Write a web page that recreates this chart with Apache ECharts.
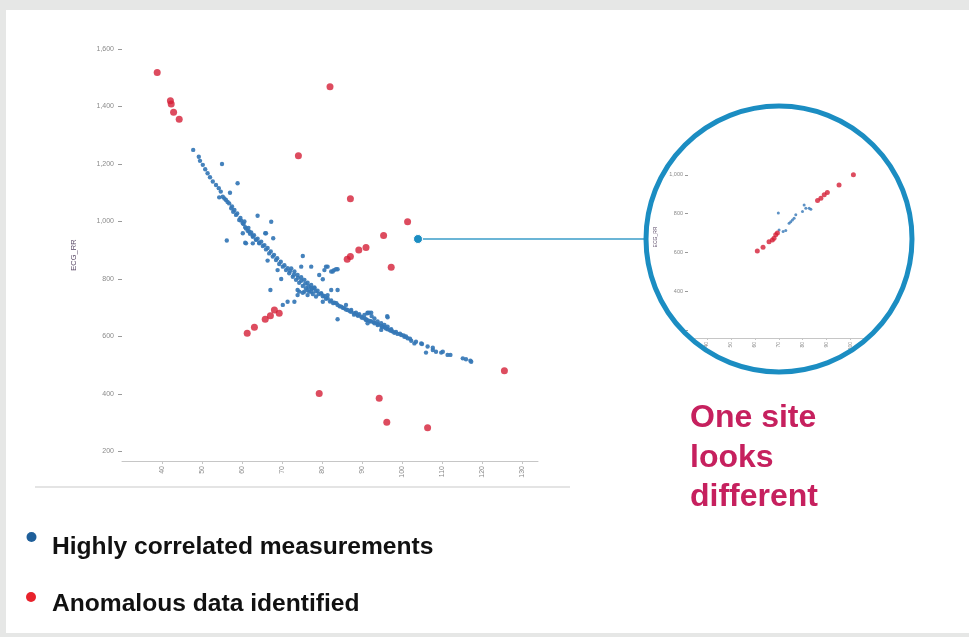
<!DOCTYPE html>
<html><head><meta charset="utf-8">
<script src="https://cdn.jsdelivr.net/npm/echarts@6/dist/echarts.min.js"></script>
<style>
html,body{margin:0;padding:0;background:#e6e7e6;width:969px;height:637px;overflow:hidden;}
#panel{position:absolute;left:6px;top:10px;width:963px;height:623px;background:#fff;}
#chart{position:absolute;left:0;top:0;width:969px;height:637px;}
</style></head><body>
<div id="panel"></div>
<div id="chart"></div>
<script>
// ---- Data ----
const xTicks = [40, 50, 60, 70, 80, 90, 100, 110, 120, 130];
const yTicks = [200, 400, 600, 800, 1000, 1200, 1400, 1600];
const insetXTicks = [40, 50, 60, 70, 80, 90, 100, 110];
const insetYTicks = [200, 400, 600, 800, 1000, 1200];

// main plot: highly correlated measurements [HR, ECG_RR]
const normalPts = [
[47.8,1249],[49.2,1225],[49.5,1211],[50.2,1197],[50.8,1182],[51.4,1168],[52.0,1154],[52.7,1139],[53.5,1127],[54.2,1116],[54.7,1104],[55.2,1086],[54.3,1084],[56.0,1075],[57.0,1100],[56.8,1063],[57.3,1046],[57.8,1034],[58.5,1023],[59.3,1005],[59.8,1003],[60.2,994],[60.4,991],[60.8,980],[61.0,976],[61.4,968],[61.8,965],[62.0,957],[62.7,947],[62.7,950],[63.5,936],[63.5,938],[64.3,924],[64.3,926],[65.2,915],[66.0,903],[66.8,889],[67.7,878],[68.5,866],[69.3,852],[70.2,843],[71.0,831],[71.8,820],[72.7,808],[73.5,797],[74.3,787],[75.2,776],[76.0,768],[76.8,756],[77.7,748],[78.5,739],
[72.3,837],[73.1,826],[73.9,814],[74.8,806],[75.6,797],[76.4,787],[77.3,779],[78.1,768],[78.9,759],[79.8,750],[80.6,741],[81.4,733],[82.3,725],[83.1,718],[83.9,710],[84.8,704],[85.6,698],[86.4,692],[87.3,686],[88.1,681],[88.9,675],[89.8,669],[90.6,663],[91.4,657],[92.3,652],[93.1,646],[93.9,640],[94.8,637],[95.6,632],[96.4,625],[97.3,620],[98.1,613],
[87.3,692],[88.5,683],[89.3,678],[90.6,675],[91.4,681],[91.8,683],[92.4,671],[91.0,657],[91.4,646],[93.1,663],[93.9,652],[94.8,646],[95.6,640],[96.4,634],[97.3,625],[97.7,617],[98.9,609],[99.8,605],[100.6,599],[101.4,594],[102.3,585],[103.1,576],[104.8,576],[105.0,574],[106.4,565],[106.0,544],[107.7,553],[107.7,561],[108.5,547],[109.8,544],[110.2,547],[111.4,536],[112.1,536],[115.2,524],[116.0,521],[117.1,516],[117.3,512],
[55.6,1080],[56.4,1068],[57.5,1052],[58.1,1040],[58.8,1028],[59.6,1012],[60.6,1000],[61.6,978],[62.3,962],[63.0,952],[63.9,940],[64.8,930],[65.6,918],[66.4,908],[67.2,896],[68.0,884],[68.8,872],[69.7,860],[70.6,848],[71.4,838],[72.0,828],[73.0,815],[74.0,804],[74.8,794],[75.8,784],[76.6,775],[77.5,766],[78.4,757],[79.2,748],[80.2,740],[81.0,731],[82.0,722],[82.8,716],[83.6,716],[84.4,705],[85.2,700],[86.0,694],[87.0,688],[88.0,676],[89.0,672],[90.0,665],[91.0,660],[92.0,654],[93.0,650],[94.0,643],[95.0,634],[96.0,628],[97.0,622],[98.5,616],[99.5,610],[100.4,604],[101.0,600],[102.0,592],[103.5,582],
[55.0,1200],[58.9,1133],[63.9,1020],[67.3,999],[56.2,934],[60.8,926],[65.8,959],[66.0,959],[67.8,942],[60.2,959],[61.0,924],[62.7,924],[66.4,864],[68.9,831],[75.2,880],[74.8,843],[77.3,843],[69.8,800],[67.1,762],[73.9,762],[75.6,756],[76.4,744],[79.8,750],[81.4,744],[79.3,814],[80.2,799],[81.0,843],[83.0,831],[83.9,834],[82.3,826],[73.1,721],[74.3,756],[77.3,756],[80.6,831],[81.4,843],[82.7,826],[83.5,834],[83.9,762],[82.3,762],[80.2,721],[83.9,660],[86.0,710],[91.4,683],[92.3,683],[96.4,667],[94.8,623],[96.3,671],
[70.2,710],[71.4,721],[73.9,744],[75.2,752],[76.4,762],[77.3,768],[78.1,771]
];

// main plot: anomalous data
const anomalyPts = [
[38.8,1518],[42.1,1420],[42.3,1409],[42.9,1380],[44.3,1356],[82.0,1469],[74.1,1229],[87.1,1079],[101.4,999],[95.4,951],[97.3,841],[91.0,910],[89.2,901],[87.1,878],[86.3,869],[69.3,681],[68.1,692],[67.1,672],[65.8,660],[63.1,632],[61.3,611],[125.6,481],[79.3,402],[94.3,385],[96.2,302],[106.4,283]
];

// inset (one site)
const siteNormalPts = [
[69.8,803],[70.1,716],[71.8,708],[72.9,713],[74.3,751],[75.0,759],[75.7,768],[76.4,777],[77.1,794],[79.9,811],[80.6,845],[81.3,828],[82.7,828],[83.4,823]
];
const siteAnomalyPts = [
[61.0,608],[63.4,627],[65.9,656],[67.3,665],[68.0,674],[68.7,691],[69.4,700],[86.2,868],[87.6,880],[89.0,897],[90.3,909],[95.2,948],[101.2,1000]
];

const legendLabels = ['Highly correlated measurements', 'Anomalous data identified'];
const calloutLines = ['One site', 'looks', 'different'];

const BLUE = '#3577b6', RED = '#d41f37';
const fmt = v => v.toLocaleString('en-US');

const chart = echarts.init(document.getElementById('chart'), null, {renderer: 'canvas'});
const axisGray = '#c6c6c6', labelGray = '#8a8a8a';

const option = {
  animation: false,
  backgroundColor: 'transparent',
  grid: [
    {left: 122, top: 49, width: 416, height: 412},
    {left: 688, top: 136, width: 191.2, height: 202}
  ],
  xAxis: [
    {gridIndex: 0, type: 'value', min: 30, max: 134,
     axisLine: {lineStyle: {color: axisGray, width: 1}},
     axisTick: {show: true, customValues: xTicks, length: 3, lineStyle: {color: axisGray}},
     axisLabel: {customValues: xTicks, rotate: 90, fontSize: 7, color: labelGray, margin: 5, fontFamily: 'Liberation Sans, Arial'},
     splitLine: {show: false}},
    {gridIndex: 1, type: 'value', min: 32, max: 112,
     axisLine: {lineStyle: {color: axisGray, width: 1}},
     axisTick: {show: true, customValues: insetXTicks, length: 2, lineStyle: {color: axisGray}},
     axisLabel: {customValues: insetXTicks, rotate: 90, fontSize: 5, color: labelGray, margin: 4, fontFamily: 'Liberation Sans, Arial'},
     splitLine: {show: false}}
  ],
  yAxis: [
    {gridIndex: 0, type: 'value', min: 167, max: 1600,
     name: 'ECG_RR', nameLocation: 'middle', nameGap: 44,
     nameTextStyle: {fontSize: 7.5, color: '#5b4b68', fontFamily: 'Liberation Sans, Arial'},
     axisLine: {show: false},
     axisTick: {show: true, customValues: yTicks, length: 4, lineStyle: {color: '#9a9a9a'}},
     axisLabel: {customValues: yTicks, formatter: fmt, fontSize: 7, color: labelGray, margin: 8, fontFamily: 'Liberation Sans, Arial'},
     splitLine: {show: false}},
    {gridIndex: 1, type: 'value', min: 160, max: 1200,
     name: 'ECG_RR', nameLocation: 'middle', nameGap: 30,
     nameTextStyle: {fontSize: 5, color: '#5b4b68', fontFamily: 'Liberation Sans, Arial'},
     axisLine: {show: false},
     axisTick: {show: true, customValues: insetYTicks, length: 3, lineStyle: {color: '#9a9a9a'}},
     axisLabel: {customValues: insetYTicks, formatter: fmt, fontSize: 5.5, color: labelGray, margin: 5, fontFamily: 'Liberation Sans, Arial'},
     splitLine: {show: false}}
  ],
  series: [
    {type: 'scatter', name: legendLabels[0], xAxisIndex: 0, yAxisIndex: 0, data: normalPts, symbolSize: 4.4,
     itemStyle: {color: BLUE, opacity: 0.92}, silent: true},
    {type: 'scatter', name: legendLabels[1], xAxisIndex: 0, yAxisIndex: 0, data: anomalyPts, symbolSize: 7,
     itemStyle: {color: RED}, silent: true},
    {type: 'scatter', xAxisIndex: 1, yAxisIndex: 1, data: siteNormalPts, symbolSize: 3,
     itemStyle: {color: BLUE}, silent: true},
    {type: 'scatter', xAxisIndex: 1, yAxisIndex: 1, data: siteAnomalyPts, symbolSize: 5,
     itemStyle: {color: RED}, silent: true}
  ],
  graphic: [
    {type: 'line', shape: {x1: 35, y1: 487, x2: 570, y2: 487}, style: {stroke: '#e4e4e4', lineWidth: 2}, z: 1, silent: true},
    // white mask outside the magnifier circle
    {type: 'ring', shape: {cx: 779, cy: 239, r: 205, r0: 131}, style: {fill: '#ffffff'}, z: 10, silent: true},
    {type: 'line', shape: {x1: 418, y1: 239, x2: 648, y2: 239}, style: {stroke: '#3a9cc8', lineWidth: 1.6}, z: 11, silent: true},
    {type: 'circle', shape: {cx: 779, cy: 239, r: 133}, style: {fill: 'none', stroke: '#1b8dc2', lineWidth: 5}, z: 12, silent: true},
    {type: 'circle', shape: {cx: 418, cy: 239, r: 4.5}, style: {fill: '#1b8dc2', stroke: '#ffffff', lineWidth: 1}, z: 12, silent: true},
    {type: 'text', x: 690, y: 418, z: 20, style: {text: calloutLines[0], fill: '#c6205e', font: 'bold 32px "Liberation Sans", Arial, sans-serif', verticalAlign: 'middle'}},
    {type: 'text', x: 690, y: 458, z: 20, style: {text: calloutLines[1], fill: '#c6205e', font: 'bold 32px "Liberation Sans", Arial, sans-serif', verticalAlign: 'middle'}},
    {type: 'text', x: 690, y: 497, z: 20, style: {text: calloutLines[2], fill: '#c6205e', font: 'bold 32px "Liberation Sans", Arial, sans-serif', verticalAlign: 'middle'}},
    {type: 'circle', shape: {cx: 31.5, cy: 537, r: 5}, style: {fill: '#1f5f9a'}, z: 20, silent: true},
    {type: 'circle', shape: {cx: 31, cy: 597, r: 5}, style: {fill: '#e8222c'}, z: 20, silent: true},
    {type: 'text', x: 52, y: 547, z: 20, style: {text: legendLabels[0], fill: '#111111', font: 'bold 24.6px "Liberation Sans", Arial, sans-serif', verticalAlign: 'middle'}},
    {type: 'text', x: 52, y: 604, z: 20, style: {text: legendLabels[1], fill: '#111111', font: 'bold 24.6px "Liberation Sans", Arial, sans-serif', verticalAlign: 'middle'}}
  ]
};
chart.setOption(option);
</script>
</body></html>
